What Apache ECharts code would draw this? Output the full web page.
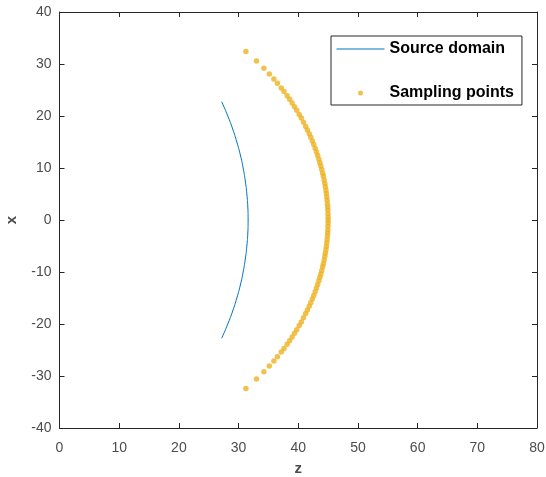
<!DOCTYPE html>
<html>
<head>
<meta charset="utf-8">
<script src="https://cdn.jsdelivr.net/npm/echarts@6/dist/echarts.min.js"></script>
<style>
  html, body { margin: 0; padding: 0; background: #fff; }
  #chart { width: 546px; height: 477px; }
</style>
</head>
<body>
<div id="chart"></div>
<script>
// source domain arc (z, x)
var sourceZ = [27.17, 28.20, 29.02, 29.71, 30.30, 30.77, 31.13, 31.39, 31.55, 31.60,
               31.55, 31.39, 31.13, 30.77, 30.30, 29.71, 29.02, 28.20, 27.17];
var sourceX = [22.75, 20, 17.5, 15, 12.5, 10, 7.5, 5, 2.5, 0,
               -2.5, -5, -7.5, -10, -12.5, -15, -17.5, -20, -22.75];

// sampling points (z, x)
var sampleZ = [31.23, 33.00, 34.24, 35.15, 35.92, 36.51, 37.15, 37.62, 38.13, 38.56,
               38.97, 39.37, 39.75, 40.16, 40.51, 40.88, 41.24, 41.54, 41.83, 42.10,
               42.36, 42.60, 42.83, 43.05, 43.26, 43.45, 43.63, 43.78, 43.94, 44.09,
               44.21, 44.34, 44.45, 44.54, 44.64, 44.71, 44.78, 44.84, 44.89, 44.93,
               44.96, 44.98, 45.00, 45.00,
               45.00, 44.98, 44.96, 44.93, 44.89, 44.84, 44.78, 44.71, 44.64, 44.54,
               44.45, 44.34, 44.21, 44.09, 43.94, 43.78, 43.63, 43.45, 43.26, 43.05,
               42.83, 42.60, 42.36, 42.10, 41.83, 41.54, 41.24, 40.88, 40.51, 40.16,
               39.75, 39.37, 38.97, 38.56, 38.13, 37.62, 37.15, 36.51, 35.92, 35.15,
               34.24, 33.00, 31.23];
var sampleX = [32.4, 30.6, 29.2, 28.1, 27.1, 26.3, 25.4, 24.7, 23.9, 23.2,
               22.5, 21.8, 21.1, 20.3, 19.6, 18.8, 18.0, 17.3, 16.6, 15.9,
               15.2, 14.5, 13.8, 13.1, 12.4, 11.7, 11.0, 10.4, 9.7, 9.0,
               8.4, 7.7, 7.0, 6.4, 5.7, 5.1, 4.4, 3.8, 3.1, 2.5,
               1.9, 1.2, 0.6, 0,
               -0.6, -1.2, -1.9, -2.5, -3.1, -3.8, -4.4, -5.1, -5.7, -6.4,
               -7.0, -7.7, -8.4, -9.0, -9.7, -10.4, -11.0, -11.7, -12.4, -13.1,
               -13.8, -14.5, -15.2, -15.9, -16.6, -17.3, -18.0, -18.8, -19.6, -20.3,
               -21.1, -21.8, -22.5, -23.2, -23.9, -24.7, -25.4, -26.3, -27.1, -28.1,
               -29.2, -30.6, -32.4];

var seriesNames = ["Source domain", "Sampling points"];

var sourceData = sourceZ.map(function (z, i) { return [z, sourceX[i]]; });
var sampleData = sampleZ.map(function (z, i) { return [z, sampleX[i]]; });

var axisColor = "#262626";
var labelColor = "#4d4d4d";
var fontFam = "Liberation Sans, Arial, sans-serif";

function frameAxis(pos, min, max) {
  return {
    type: "value", position: pos, min: min, max: max, interval: 10,
    axisLine: { show: true, onZero: false, lineStyle: { color: axisColor, width: 1 } },
    axisTick: { show: true, inside: true, length: 5, lineStyle: { color: axisColor } },
    axisLabel: { show: false },
    splitLine: { show: false }
  };
}

var myChart = echarts.init(document.getElementById("chart"));
var option = {
  animation: false,
  backgroundColor: "#fff",
  grid: { left: 59.5, right: 9, top: 12, bottom: 49, containLabel: false, outerBoundsMode: "none" },
  legend: {
    orient: "vertical",
    left: 331, top: 36,
    padding: [4, 8, 3, 5],
    itemWidth: 48, itemHeight: 5,
    itemGap: 26,
    borderColor: axisColor, borderWidth: 1,
    backgroundColor: "#fff",
    textStyle: { fontFamily: fontFam, fontSize: 16, fontWeight: "bold", color: "#000", lineHeight: 18 },
    data: [
      { name: seriesNames[0], itemStyle: { opacity: 0 }, lineStyle: { width: 1, color: "#0072BD" } },
      { name: seriesNames[1] }
    ]
  },
  xAxis: [
    {
      type: "value", min: 0, max: 80, interval: 10,
      name: "z", nameLocation: "middle", nameGap: 33,
      nameTextStyle: { fontFamily: fontFam, fontSize: 15, fontWeight: "bold", color: labelColor },
      axisLine: { show: true, onZero: false, lineStyle: { color: axisColor, width: 1 } },
      axisTick: { show: true, inside: true, length: 5, lineStyle: { color: axisColor } },
      axisLabel: { fontFamily: fontFam, fontSize: 14, color: labelColor, margin: 13 },
      splitLine: { show: false }
    },
    frameAxis("top", 0, 80)
  ],
  yAxis: [
    {
      type: "value", min: -40, max: 40, interval: 10,
      name: "x", nameLocation: "middle", nameGap: 40,
      nameTextStyle: { fontFamily: fontFam, fontSize: 15, fontWeight: "bold", color: labelColor },
      axisLine: { show: true, onZero: false, lineStyle: { color: axisColor, width: 1 } },
      axisTick: { show: true, inside: true, length: 5, lineStyle: { color: axisColor } },
      axisLabel: { fontFamily: fontFam, fontSize: 14, color: labelColor, margin: 8 },
      splitLine: { show: false }
    },
    frameAxis("right", -40, 40)
  ],
  series: [
    {
      name: seriesNames[0],
      type: "line",
      data: sourceData,
      smooth: true,
      symbol: "none",
      lineStyle: { color: "#0072BD", width: 1 },
      itemStyle: { color: "#0072BD" }
    },
    {
      name: seriesNames[1],
      type: "scatter",
      data: sampleData,
      symbol: "circle",
      symbolSize: 5.5,
      itemStyle: { color: "#EDB120" }
    }
  ]
};
myChart.setOption(option);
</script>
</body>
</html>
